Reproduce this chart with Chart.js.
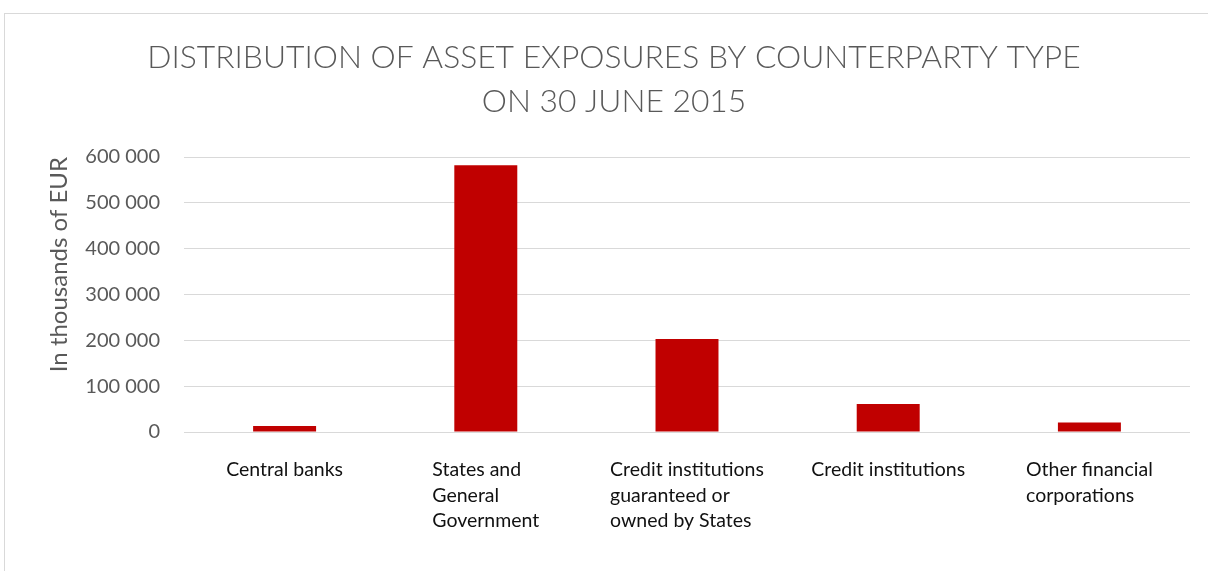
<!DOCTYPE html>
<html>
<head>
<meta charset="utf-8">
<script src="https://cdn.jsdelivr.net/npm/chart.js@4"></script>
<style>
  html, body { margin: 0; padding: 0; background: #fff; overflow: hidden; }
  #wrap { position: relative; width: 1208px; height: 571px; }
  #frame { position: absolute; left: 4px; top: 13px; width: 1300px; height: 700px; border: 1px solid #d9d9d9; }
  canvas { position: absolute; left: 0; top: 0; }
</style>
</head>
<body>
<div id="wrap">
  <div id="frame"></div>
  <canvas id="chart" width="1208" height="571"></canvas>
</div>
<script>
const categories = [
  ['Central banks'],
  ['States and', 'General', 'Government'],
  ['Credit institutions', 'guaranteed or', 'owned by States'],
  ['Credit institutions'],
  ['Other financial', 'corporations']
];
const exposures = [13000, 582000, 203000, 61000, 21000];
const yTicks = [0, 100000, 200000, 300000, 400000, 500000, 600000];
const titleLines = ['DISTRIBUTION OF ASSET EXPOSURES BY COUNTERPARTY TYPE', 'ON 30 JUNE 2015'];

const grey = '#595959';
const fontName = 'Lato, "Open Sans", sans-serif';

function spaced(v) {
  return String(v).replace(/\B(?=(\d{3})+(?!\d))/g, ' ');
}

// heading, centred on the whole frame rather than the plot
const heading = {
  id: 'heading',
  afterDraw(chart) {
    const ctx = chart.ctx;
    ctx.save();
    ctx.font = '300 31.8px ' + fontName;
    ctx.fillStyle = grey;
    ctx.textAlign = 'center';
    ctx.textBaseline = 'middle';
    titleLines.forEach((t, i) => ctx.fillText(t, 614, 58 + i * 43.5));
    ctx.restore();
  }
};

// category labels: each wrapped block is left-aligned and centred under its bar
const xLabels = {
  id: 'xLabels',
  afterDraw(chart) {
    const ctx = chart.ctx;
    const x = chart.scales.x;
    ctx.save();
    ctx.font = '19.5px ' + fontName;
    ctx.fillStyle = '#111';
    ctx.textBaseline = 'middle';
    ctx.textAlign = 'left';
    categories.forEach((lines, i) => {
      const w = Math.max(...lines.map(l => ctx.measureText(l).width));
      const left = x.getPixelForValue(i) - w / 2;
      lines.forEach((l, j) => ctx.fillText(l, left, 470 + j * 25.5));
    });
    ctx.restore();
  }
};

new Chart(document.getElementById('chart'), {
  type: 'bar',
  data: {
    labels: categories.map(c => c.join(' ')),
    datasets: [{
      data: exposures,
      backgroundColor: '#c00000',
      barPercentage: 0.313,
      categoryPercentage: 1
    }]
  },
  options: {
    responsive: false,
    animation: false,
    layout: { padding: { left: 0, right: 18, top: 157, bottom: 0 } },
    plugins: {
      legend: { display: false },
      tooltip: { enabled: false },
      title: { display: false }
    },
    scales: {
      x: {
        grid: { display: false },
        border: { display: false },
        ticks: { display: false },
        afterFit(scale) { scale.height = 139; }
      },
      y: {
        min: 0,
        max: 600000,
        afterBuildTicks(scale) { scale.ticks = yTicks.map(v => ({ value: v })); },
        grid: { color: '#d9d9d9', lineWidth: 1, drawTicks: false },
        border: { display: false },
        ticks: {
          color: grey,
          padding: 24,
          font: { family: fontName, size: 20 },
          callback: v => spaced(v)
        },
        title: {
          display: true,
          text: 'In thousands of EUR',
          color: grey,
          align: 'end',
          font: { family: fontName, size: 24 },
          padding: { top: 45, bottom: 0 }
        },
        afterFit(scale) { scale.width = 184; }
      }
    }
  },
  plugins: [heading, xLabels]
});
</script>
</body>
</html>
